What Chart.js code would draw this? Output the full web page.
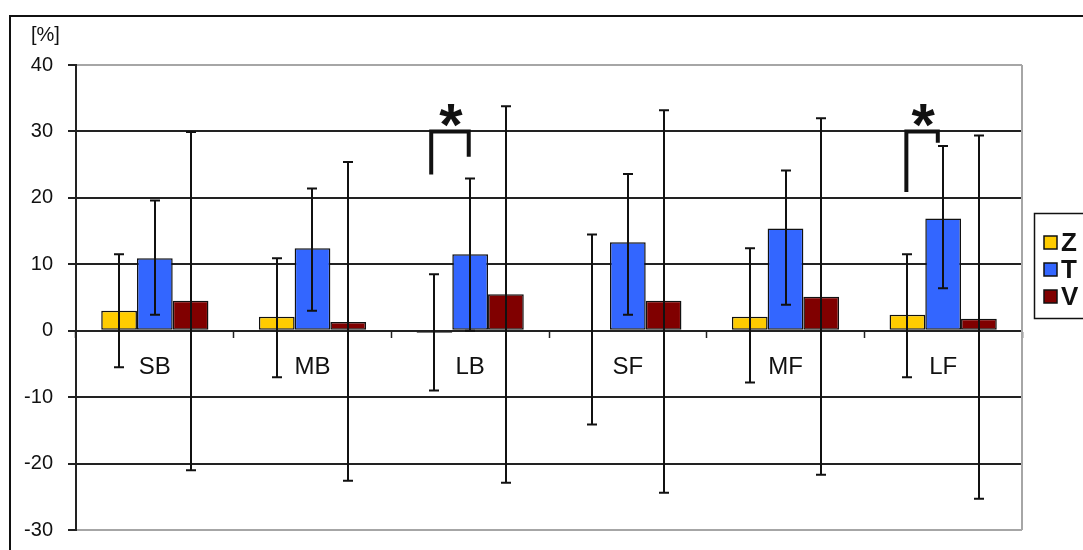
<!DOCTYPE html>
<html>
<head>
<meta charset="utf-8">
<script src="https://cdn.jsdelivr.net/npm/chart.js@4.4.1/dist/chart.umd.min.js"></script>
<style>
  html, body { margin: 0; padding: 0; background: #fff; overflow: hidden; }
  #wrap { position: relative; width: 1083px; height: 550px; overflow: hidden; }
  canvas { display: block; }
</style>
</head>
<body>
<div id="wrap"><canvas id="c" width="1083" height="557"></canvas></div>
<script>
// Categories along the x axis
const categories = ['SB', 'MB', 'LB', 'SF', 'MF', 'LF'];
const seriesNames = ['Z', 'T', 'V'];

// Mean change per category [%]
const zValues = [3.0, 2.1, -0.3, 0.0, 2.1, 2.4];
const tValues = [10.9, 12.4, 11.5, 13.3, 15.4, 16.9];
const vValues = [4.5, 1.3, 5.5, 4.5, 5.1, 1.8];

// Error bar ends (upper / lower) per category [%]
const zHigh = [11.5, 10.9, 8.5, 14.5, 12.4, 11.5];
const zLow  = [-5.5, -7.0, -9.0, -14.1, -7.8, -7.0];
const tHigh = [19.6, 21.4, 22.9, 23.6, 24.1, 27.8];
const tLow  = [2.4, 3.0, 0.0, 2.4, 3.9, 6.4];
const vHigh = [29.9, 25.4, 33.8, 33.2, 32.0, 29.4];
const vLow  = [-21.0, -22.6, -22.9, -24.4, -21.7, -25.3];

// Y axis tick labels
const yTicks = [40, 30, 20, 10, 0, -10, -20, -30];
const yUnit = '[%]';

// Significance brackets: category, x-span in bar widths from the category centre,
// bracket top and the level each leg drops to
const sigCategory = ['LB', 'LF'];
const sigFrom = [-1.09, -1.03];
const sigTo = [-0.04, -0.15];
const sigTop = [30, 30];
const sigLeftEnd = [23.5, 20.9];
const sigRightEnd = [26.2, 28.3];
const sigMark = '*';

const colors = ['#FFCC00', '#3366FF', '#800000'];
const highs = [zHigh, tHigh, vHigh];
const lows = [zLow, tLow, vLow];
const FONT = '"Liberation Sans", Arial, sans-serif';

const frame = {
  id: 'frame',
  beforeDraw(chart) {
    const ctx = chart.ctx;
    ctx.save();
    ctx.fillStyle = '#fff';
    ctx.fillRect(0, 0, chart.width, chart.height);
    ctx.strokeStyle = '#111';
    ctx.lineWidth = 2;
    ctx.beginPath();
    ctx.moveTo(10, chart.height + 5);
    ctx.lineTo(10, 16);
    ctx.lineTo(chart.width + 5, 16);
    ctx.stroke();
    ctx.restore();
  },
  afterDraw(chart) {
    const ctx = chart.ctx;
    const a = chart.chartArea;
    ctx.save();
    // right edge of the plot area
    ctx.strokeStyle = '#a6a6a6';
    ctx.lineWidth = 2;
    ctx.beginPath();
    ctx.moveTo(a.right, a.top);
    ctx.lineTo(a.right, a.bottom);
    ctx.stroke();
    // unit label
    ctx.fillStyle = '#111';
    ctx.font = '20px ' + FONT;
    ctx.textBaseline = 'middle';
    ctx.textAlign = 'left';
    ctx.fillText(yUnit, 31, 35);

    // legend box
    ctx.strokeStyle = '#111';
    ctx.lineWidth = 1.5;
    ctx.strokeRect(1034.5, 213.5, 80, 105);
    const ys = [243, 270, 297];
    chart.data.datasets.forEach((ds, i) => {
      ctx.fillStyle = ds.backgroundColor;
      ctx.fillRect(1044, ys[i] - 7, 13, 13);
      ctx.strokeStyle = '#111';
      ctx.lineWidth = 1.5;
      ctx.strokeRect(1044, ys[i] - 7, 13, 13);
      ctx.fillStyle = '#111';
      ctx.font = 'bold 26px ' + FONT;
      ctx.textBaseline = 'middle';
      ctx.fillText(ds.label, 1061, ys[i] + 1);
    });

    // significance brackets
    const xs = chart.scales.x, yScale = chart.scales.y;
    const bw = chart.getDatasetMeta(1).data[0].width;
    sigCategory.forEach((cat, k) => {
      const cx = xs.getPixelForValue(categories.indexOf(cat));
      const x1 = cx + sigFrom[k] * bw, x2 = cx + sigTo[k] * bw;
      const yt = yScale.getPixelForValue(sigTop[k]);
      ctx.strokeStyle = '#111';
      ctx.lineWidth = 4;
      ctx.lineCap = 'butt';
      ctx.beginPath();
      ctx.moveTo(x1, yScale.getPixelForValue(sigLeftEnd[k]));
      ctx.lineTo(x1, yt);
      ctx.lineTo(x2, yt);
      ctx.lineTo(x2, yScale.getPixelForValue(sigRightEnd[k]));
      ctx.stroke();
      ctx.fillStyle = '#111';
      ctx.font = 'bold 60px ' + FONT;
      ctx.textAlign = 'center';
      ctx.textBaseline = 'middle';
      ctx.fillText(sigMark, (x1 + x2) / 2 + 1, yt - 3);
    });
    ctx.restore();
  }
};

const errorBars = {
  id: 'errorBars',
  afterDatasetsDraw(chart) {
    const ctx = chart.ctx;
    const yScale = chart.scales.y;
    ctx.save();
    ctx.strokeStyle = '#111';
    ctx.lineWidth = 2;
    chart.data.datasets.forEach((ds, i) => {
      const meta = chart.getDatasetMeta(i);
      meta.data.forEach((bar, j) => {
        const x = Math.round(bar.x);
        const yh = yScale.getPixelForValue(highs[i][j]);
        const yl = yScale.getPixelForValue(lows[i][j]);
        ctx.beginPath();
        ctx.moveTo(x, yh); ctx.lineTo(x, yl);
        ctx.moveTo(x - 5, yh); ctx.lineTo(x + 5, yh);
        ctx.moveTo(x - 5, yl); ctx.lineTo(x + 5, yl);
        ctx.stroke();
      });
    });
    ctx.restore();
  }
};

new Chart(document.getElementById('c'), {
  type: 'bar',
  data: {
    labels: categories,
    datasets: [zValues, tValues, vValues].map((vals, i) => ({
      label: seriesNames[i],
      data: vals,
      backgroundColor: colors[i],
      borderColor: '#111',
      borderWidth: 1.5,
      borderSkipped: false,
      categoryPercentage: 0.68,
      barPercentage: 1.0
    }))
  },
  options: {
    responsive: false,
    devicePixelRatio: 1,
    animation: false,
    layout: { padding: { left: 0, top: 65, right: 61, bottom: 12 } },
    plugins: { legend: { display: false }, tooltip: { enabled: false } },
    scales: {
      x: {
        type: 'category',
        position: { y: 0 },
        offset: true,
        grid: { display: true, drawOnChartArea: false, offset: true, tickLength: 6, tickColor: '#222', tickWidth: 1.5 },
        border: { display: true, color: '#222', width: 2 },
        ticks: { font: { family: FONT, size: 24 }, color: '#111', padding: 16 }
      },
      y: {
        min: -30, max: 40,
        afterBuildTicks(scale) { scale.ticks = yTicks.map(v => ({ value: v })); },
        afterFit(scale) { scale.width = 76; },
        grid: {
          color: c => (c.tick && (c.tick.value === 40 || c.tick.value === -30)) ? '#a6a6a6' : '#222',
          lineWidth: 2,
          tickLength: 8,
          tickColor: '#222'
        },
        border: { display: true, color: '#222', width: 2 },
        ticks: { font: { family: FONT, size: 20 }, color: '#111', padding: 15 }
      }
    }
  },
  plugins: [frame, errorBars]
});
</script>
</body>
</html>
